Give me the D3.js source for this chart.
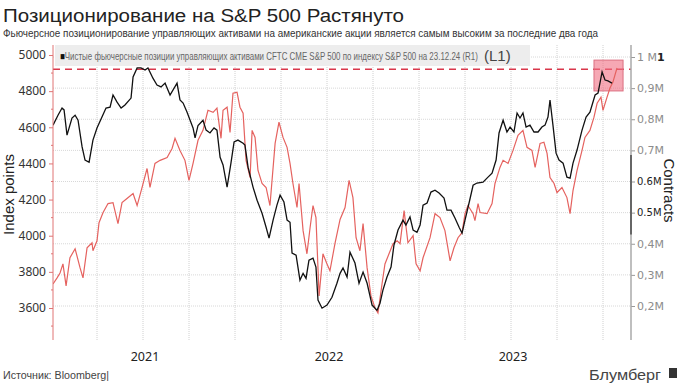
<!DOCTYPE html>
<html lang="ru">
<head>
<meta charset="UTF-8">
<title>Позиционирование на S&P 500 Растянуто</title>
<script src="https://d3js.org/d3.v7.min.js"></script>
<style>
  body { margin: 0; background: #fff; }
  svg text { font-family: "Liberation Sans", Arial, sans-serif; }
</style>
</head>
<body>
<div id="chart"></div>
<script>
// time is kept as decimal years (2021.5 = mid 2021)
const spxDates = [
  2021.011, 2021.033, 2021.049, 2021.065, 2021.082, 2021.103, 2021.131, 2021.158, 2021.174, 2021.196,
  2021.223, 2021.228, 2021.250, 2021.261, 2021.283, 2021.310, 2021.337, 2021.364, 2021.386, 2021.413,
  2021.446, 2021.468, 2021.495, 2021.522, 2021.538, 2021.565, 2021.593, 2021.631, 2021.658, 2021.674,
  2021.701, 2021.728, 2021.750, 2021.772, 2021.799, 2021.826, 2021.853, 2021.881, 2021.902, 2021.924,
  2021.935, 2021.957, 2021.973, 2021.989, 2022.011, 2022.027, 2022.044, 2022.060, 2022.082, 2022.093,
  2022.109, 2022.125, 2022.147, 2022.169, 2022.190, 2022.218, 2022.239, 2022.261, 2022.283, 2022.299,
  2022.315, 2022.337, 2022.348, 2022.370, 2022.391, 2022.408, 2022.424, 2022.440, 2022.457, 2022.478,
  2022.500, 2022.516, 2022.544, 2022.571, 2022.598, 2022.620, 2022.641, 2022.658, 2022.679, 2022.696,
  2022.718, 2022.739, 2022.761, 2022.777, 2022.799, 2022.815, 2022.837, 2022.859, 2022.881, 2022.897,
  2022.919, 2022.940, 2022.968, 2022.984, 2023.006, 2023.022, 2023.060, 2023.087, 2023.114, 2023.141,
  2023.169, 2023.190, 2023.212, 2023.234, 2023.250, 2023.266, 2023.294, 2023.304, 2023.321, 2023.332,
  2023.370, 2023.397, 2023.413, 2023.440, 2023.457, 2023.484, 2023.511, 2023.538, 2023.565, 2023.587,
  2023.614, 2023.631, 2023.658, 2023.679, 2023.696, 2023.712, 2023.734, 2023.750, 2023.777, 2023.804,
  2023.821, 2023.837, 2023.859, 2023.886, 2023.902, 2023.929, 2023.951, 2023.968, 2023.989, 2024.000,
  2024.022, 2024.038, 2024.054, 2024.076
];
const spxValues = [
  3733, 3767, 3794, 3844, 3722, 3878, 3928, 3822, 3767, 3933,
  3961, 3917, 3972, 4072, 4128, 4178, 4183, 4067, 4183, 4206,
  4233, 4167, 4267, 4372, 4267, 4400, 4417, 4433, 4483, 4539,
  4472, 4417, 4306, 4400, 4528, 4583, 4694, 4683, 4706, 4539,
  4694, 4711, 4572, 4789, 4794, 4711, 4678, 4417, 4322, 4583,
  4544, 4361, 4289, 4267, 4167, 4511, 4628, 4544, 4489, 4400,
  4289, 4156, 4289, 4028, 3900, 4044, 4167, 4100, 3667, 3900,
  3844, 3806, 3960, 4090, 4156, 4306, 4211, 3989, 3917, 4067,
  3822, 3667, 3600, 3572, 3733, 3844, 3900, 3956, 3972, 3956,
  4139, 3961, 4000, 3844, 3806, 3878, 3989, 4122, 4100, 4028,
  3861, 3933, 3989, 4017, 4122, 4167, 4122, 4083, 4178, 4128,
  4122, 4178, 4289, 4378, 4417, 4400, 4472, 4556, 4583, 4489,
  4472, 4378, 4511, 4517, 4456, 4322, 4289, 4239, 4267, 4211,
  4122, 4250, 4361, 4472, 4544, 4583, 4656, 4733, 4767, 4694,
  4767, 4817, 4850, 4928
];

// net futures positions, million contracts
const posDates = [
  2021.011, 2021.038, 2021.060, 2021.071, 2021.087, 2021.114, 2021.131, 2021.147, 2021.169, 2021.185,
  2021.207, 2021.228, 2021.250, 2021.277, 2021.299, 2021.321, 2021.337, 2021.359, 2021.381, 2021.402,
  2021.435, 2021.446, 2021.468, 2021.489, 2021.511, 2021.527, 2021.554, 2021.576, 2021.598, 2021.620,
  2021.647, 2021.685, 2021.701, 2021.718, 2021.739, 2021.756, 2021.772, 2021.783, 2021.799, 2021.826,
  2021.843, 2021.864, 2021.886, 2021.902, 2021.919, 2021.935, 2021.957, 2021.978, 2021.995, 2022.016,
  2022.044, 2022.054, 2022.071, 2022.098, 2022.120, 2022.147, 2022.169, 2022.185, 2022.207, 2022.228,
  2022.245, 2022.266, 2022.283, 2022.299, 2022.310, 2022.332, 2022.353, 2022.370, 2022.386, 2022.402,
  2022.424, 2022.440, 2022.451, 2022.473, 2022.500, 2022.527, 2022.554, 2022.571, 2022.587, 2022.609,
  2022.625, 2022.652, 2022.674, 2022.696, 2022.718, 2022.745, 2022.772, 2022.788, 2022.804, 2022.826,
  2022.848, 2022.864, 2022.886, 2022.913, 2022.929, 2022.951, 2022.968, 2022.989, 2023.006, 2023.022,
  2023.044, 2023.065, 2023.087, 2023.109, 2023.136, 2023.152, 2023.174, 2023.196, 2023.218, 2023.234,
  2023.250, 2023.272, 2023.294, 2023.315, 2023.348, 2023.375, 2023.397, 2023.419, 2023.435, 2023.457,
  2023.478, 2023.495, 2023.516, 2023.533, 2023.549, 2023.565, 2023.582, 2023.603, 2023.625, 2023.647,
  2023.668, 2023.685, 2023.701, 2023.712, 2023.728, 2023.745, 2023.761, 2023.783, 2023.804, 2023.821,
  2023.837, 2023.859, 2023.886, 2023.908, 2023.929, 2023.957, 2023.973, 2023.995, 2024.011, 2024.027,
  2024.049
];
const posValues = [
  0.781, 0.813, 0.836, 0.830, 0.749, 0.804, 0.813, 0.797, 0.711, 0.669,
  0.662, 0.733, 0.772, 0.807, 0.836, 0.839, 0.878, 0.855, 0.836, 0.846,
  0.868, 0.936, 0.965, 0.965, 0.958, 0.965, 0.932, 0.910, 0.904, 0.916,
  0.878, 0.916, 0.862, 0.852, 0.823, 0.797, 0.772, 0.740, 0.780, 0.797,
  0.765, 0.756, 0.772, 0.765, 0.678, 0.653, 0.582, 0.659, 0.727, 0.733,
  0.723, 0.717, 0.646, 0.582, 0.540, 0.498, 0.453, 0.418, 0.476, 0.524,
  0.556, 0.534, 0.476, 0.469, 0.370, 0.363, 0.283, 0.305, 0.289, 0.347,
  0.354, 0.325, 0.219, 0.193, 0.203, 0.228, 0.273, 0.305, 0.322, 0.293,
  0.373, 0.338, 0.273, 0.309, 0.273, 0.203, 0.186, 0.209, 0.251, 0.293,
  0.325, 0.396, 0.444, 0.476, 0.460, 0.486, 0.444, 0.437, 0.460, 0.524,
  0.531, 0.566, 0.572, 0.563, 0.547, 0.508, 0.508, 0.482, 0.453, 0.434,
  0.476, 0.531, 0.588, 0.595, 0.598, 0.614, 0.627, 0.669, 0.756, 0.797,
  0.759, 0.775, 0.759, 0.820, 0.804, 0.820, 0.775, 0.781, 0.759, 0.759,
  0.775, 0.781, 0.807, 0.862, 0.781, 0.691, 0.669, 0.659, 0.614, 0.611,
  0.659, 0.701, 0.765, 0.807, 0.823, 0.878, 0.884, 0.952, 0.926, 0.923,
  0.916
];

const leftTicks = [3600, 3800, 4000, 4200, 4400, 4600, 4800, 5000];
const leftMinor = [3500, 3700, 3900, 4100, 4300, 4500, 4700, 4900];
const rightTicks = [0.2, 0.3, 0.4, 0.5, 0.6, 0.7, 0.8, 0.9, 1.0];
const rightLabels = ["0,2M", "0,3M", "0,4M", "0.5M", "0.6M", "0,7M", "0,8M", "0,9M", "1 M"];
const quarterTicks = [2021.25, 2021.5, 2021.75, 2022, 2022.25, 2022.5, 2022.75,
                      2023, 2023.25, 2023.5, 2023.75, 2024];
const yearLabels = ["2021", "2022", "2023"];
const yearCenters = [2021.5, 2022.5, 2023.5];
const prevHigh = 0.961;              // dashed line, contracts
const boxDates = [2023.951, 2024.109];
const boxValues = [0.891, 0.990];

const title = "Позиционирование на S&P 500 Растянуто";
const subtitle = "Фьючерсное позиционирование управляющих активами на американские акции является самым высоким за последние два года";
const legendText = "Чистые фьючерсные позиции управляющих активами CFTC CME S&P 500 по индексу S&P 500 на 23.12.24 (R1)";

const width = 684, height = 385;
const plot = {left: 53, right: 631, top: 45, bottom: 340};

const svg = d3.select("#chart").append("svg")
    .attr("width", width)
    .attr("height", height);

const x = d3.scaleLinear().domain([2021, 2024]).range([51, 603]);
const yL = d3.scaleLinear().domain([3600, 5000]).range([308, 55]);
const yR = d3.scaleLinear().domain([0.2, 1.0]).range([306, 57]);

// squeeze a text horizontally so it spans w pixels from (tx, ty)
function squeeze(sel, tx, ty, w) {
    const len = sel.node().getComputedTextLength();
    const sx = len > 0 ? w / len : 1;
    sel.attr("x", 0).attr("y", 0)
        .attr("transform", `translate(${tx},${ty}) scale(${sx.toFixed(4)},1)`);
    return sel;
}

// titles
svg.append("text")
    .attr("x", 3).attr("y", 22)
    .attr("font-size", 18).attr("fill", "#222")
    .attr("textLength", 401).attr("lengthAdjust", "spacingAndGlyphs")
    .text(title);

svg.append("text")
    .attr("x", 3).attr("y", 37)
    .attr("font-size", 11).attr("fill", "#333")
    .style("font-family", "'Liberation Sans Narrow', 'Arial Narrow', sans-serif")
    .attr("textLength", 595).attr("lengthAdjust", "spacingAndGlyphs")
    .text(subtitle);

// grid
svg.append("g").selectAll("line")
    .data(rightTicks)
    .join("line")
    .attr("x1", plot.left).attr("x2", plot.right)
    .attr("y1", d => yR(d)).attr("y2", d => yR(d))
    .attr("stroke", "#d8d8d8").attr("stroke-dasharray", "1,1");

svg.append("g").selectAll("line")
    .data(quarterTicks)
    .join("line")
    .attr("x1", d => x(d)).attr("x2", d => x(d))
    .attr("y1", plot.top).attr("y2", plot.bottom)
    .attr("stroke", "#d0d0d0").attr("stroke-dasharray", "1,1");

// legend box
svg.append("rect")
    .attr("x", 55).attr("y", 45).attr("width", 475).attr("height", 21)
    .attr("fill", "#ededed");

const leg = svg.append("text")
    .attr("font-size", 10.5).attr("fill", "#666")
    .style("font-family", "'Liberation Sans Narrow', 'Arial Narrow', sans-serif");
leg.append("tspan").attr("fill", "#111").text("■");
leg.append("tspan").text(legendText);
squeeze(leg, 60, 60, 418);

svg.append("text")
    .attr("x", 484).attr("y", 61)
    .attr("font-size", 15).attr("fill", "#444")
    .style("font-family", "'Liberation Sans Narrow', 'Arial Narrow', sans-serif")
    .text("(L1)");

// previous high
svg.append("line")
    .attr("x1", plot.left).attr("x2", plot.right)
    .attr("y1", yR(prevHigh)).attr("y2", yR(prevHigh))
    .attr("stroke", "#d9374b").attr("stroke-width", 1.5)
    .attr("stroke-dasharray", "7,5");

// highlight box
svg.append("rect")
    .attr("x", x(boxDates[0])).attr("y", yR(boxValues[1]))
    .attr("width", x(boxDates[1]) - x(boxDates[0]))
    .attr("height", yR(boxValues[0]) - yR(boxValues[1]))
    .attr("fill", "rgba(240,110,130,0.6)")
    .attr("stroke", "#dc6f80").attr("stroke-width", 1);

svg.append("clipPath").attr("id", "clip")
    .append("rect")
    .attr("x", plot.left).attr("y", plot.top)
    .attr("width", plot.right - plot.left).attr("height", plot.bottom - plot.top);

const spx = spxDates.map((d, i) => [d, spxValues[i]]);
const pos = posDates.map((d, i) => [d, posValues[i]]);

svg.append("path")
    .datum(spx)
    .attr("clip-path", "url(#clip)")
    .attr("fill", "none")
    .attr("stroke", "#e5625f").attr("stroke-width", 1.2)
    .attr("d", d3.line().x(d => x(d[0])).y(d => yL(d[1])));

svg.append("path")
    .datum(pos)
    .attr("clip-path", "url(#clip)")
    .attr("fill", "none")
    .attr("stroke", "#111").attr("stroke-width", 1.3)
    .attr("d", d3.line().x(d => x(d[0])).y(d => yR(d[1])));

// left axis
const axL = svg.append("g")
    .attr("transform", `translate(${plot.left},0)`)
    .call(d3.axisLeft(yL).tickValues(leftTicks).tickSize(4).tickSizeOuter(0).tickPadding(3).tickFormat(d3.format("d")));
axL.select(".domain").remove();
axL.selectAll("line").attr("stroke", "#e07575");
axL.selectAll("text").attr("font-size", 12).attr("fill", "#333")
    .style("font-family", "'Noto Sans', sans-serif");

svg.append("g")
    .attr("transform", `translate(${plot.left},0)`)
    .selectAll("line")
    .data(leftMinor)
    .join("line")
    .attr("x1", -2).attr("x2", 0)
    .attr("y1", d => yL(d)).attr("y2", d => yL(d))
    .attr("stroke", "#e07575");

svg.append("line")
    .attr("x1", plot.left).attr("x2", plot.left)
    .attr("y1", plot.top).attr("y2", plot.bottom)
    .attr("stroke", "#e07575");

// right axis
const axR = svg.append("g")
    .attr("transform", `translate(${plot.right},0)`)
    .call(d3.axisRight(yR).tickValues(rightTicks).tickSize(4).tickSizeOuter(0).tickPadding(2)
        .tickFormat((d, i) => rightLabels[i]));
axR.select(".domain").remove();
axR.selectAll("line").attr("stroke", "#999");
axR.selectAll("text")
    .attr("font-size", 11)
    .attr("fill", d => (d === 0.5 || d === 0.6) ? "#222" : "#8c8c8c")
    .style("font-family", "'DejaVu Sans', sans-serif");
axR.selectAll(".tick")
    .filter(d => d === 0.5 || d === 0.6)
    .select("text").attr("font-size", 10);
axR.selectAll(".tick").filter(d => d === 1.0).select("text")
    .append("tspan").attr("fill", "#222").attr("font-weight", "bold").text("1");

svg.append("line")
    .attr("x1", plot.right).attr("x2", plot.right)
    .attr("y1", plot.top).attr("y2", plot.bottom)
    .attr("stroke", "#aaa").attr("stroke-width", 1.5);
svg.append("line")
    .attr("x1", plot.right).attr("x2", plot.right)
    .attr("y1", yR(0.685)).attr("y2", yR(0.43))
    .attr("stroke", "#666").attr("stroke-width", 2);

// axis titles
svg.append("text")
    .attr("transform", `translate(14,${(plot.top + plot.bottom) / 2 + 2}) rotate(-90)`)
    .attr("text-anchor", "middle")
    .attr("font-size", 15).attr("fill", "#222")
    .text("Index points");

svg.append("text")
    .attr("transform", `translate(664,${(plot.top + plot.bottom) / 2 - 2}) rotate(90)`)
    .attr("text-anchor", "middle")
    .attr("font-size", 15).attr("fill", "#222")
    .text("Contracts");

// year labels
svg.append("g").selectAll("text")
    .data(yearLabels)
    .join("text")
    .attr("x", (d, i) => x(yearCenters[i]) + 2)
    .attr("y", 361)
    .attr("text-anchor", "middle")
    .attr("font-size", 12.5).attr("fill", "#222")
    .style("font-family", "'Noto Sans', sans-serif")
    .text(d => d);

// footer
svg.append("text")
    .attr("x", 3).attr("y", 379)
    .attr("font-size", 10).attr("fill", "#444")
    .style("font-family", "'Liberation Sans Narrow', 'Arial Narrow', sans-serif")
    .attr("textLength", 106).attr("lengthAdjust", "spacingAndGlyphs")
    .text("Источник: Bloomberg|");

svg.append("text")
    .attr("x", 589).attr("y", 380)
    .attr("font-size", 15).attr("fill", "#444")
    .style("font-family", "'Liberation Sans Narrow', 'Arial Narrow', sans-serif")
    .attr("textLength", 72).attr("lengthAdjust", "spacingAndGlyphs")
    .text("Блумберг");

svg.append("rect")
    .attr("x", 669).attr("y", 368).attr("width", 8).attr("height", 10)
    .attr("fill", "#333");
</script>
</body>
</html>
